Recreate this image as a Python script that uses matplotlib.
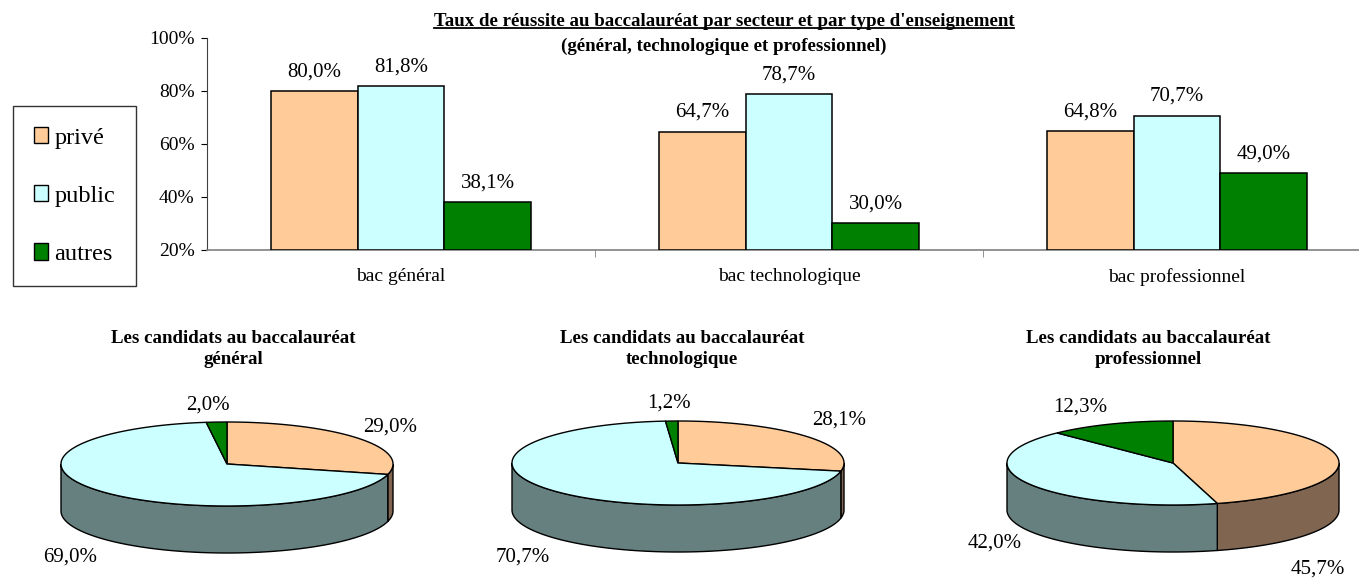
import numpy as np
import matplotlib
matplotlib.use("Agg")
import matplotlib.pyplot as plt
from matplotlib.patches import Polygon, Patch
from matplotlib.lines import Line2D

plt.rcParams['font.family'] = ['Liberation Serif', 'DejaVu Serif']

W, H = 1359, 578

categories = ['bac général', 'bac technologique', 'bac professionnel']
sectors = ['privé', 'public', 'autres']
taux_prive = [80.0, 64.7, 64.8]
taux_public = [81.8, 78.7, 70.7]
taux_autres = [38.1, 30.0, 49.0]

pie_titles = ['Les candidats au baccalauréat\ngénéral',
              'Les candidats au baccalauréat\ntechnologique',
              'Les candidats au baccalauréat\nprofessionnel']
cand_general = [29.0, 69.0, 2.0]
cand_techno = [28.1, 70.7, 1.2]
cand_pro = [45.7, 42.0, 12.3]

top_colors = ['#FFCC99', '#CCFFFF', '#008000']
side_colors = ['#806650', '#668080', '#004000']

# layout of the pies (pixels, y down)
pie_centers = [(227, 464), (678, 463), (1173, 463)]
pie_title_x = [233, 682, 1148]
label_offsets = [
    [(163, -37), (-157, 93), (-19, -59)],
    [(161, -43), (-155, 94), (-9, -60)],
    [(145, 106), (-178, 80), (-93, -56)],
]
RX, RY, DEPTH = 166, 42, 47


def fmt(v):
    return f"{v:.1f}%".replace('.', ',')


fig = plt.figure(figsize=(W / 100, H / 100), dpi=100)

# ---- bar chart ----
ax = fig.add_axes([207 / W, 1 - 250 / H, (W - 207) / W, (250 - 38) / H])
x = np.arange(len(categories))
bw = 0.223
series = [taux_prive, taux_public, taux_autres]
for i, vals in enumerate(series):
    bars = ax.bar(x + (i - 1) * bw, np.array(vals) - 20, bw, bottom=20,
                  color=top_colors[i], edgecolor='black', linewidth=1.1,
                  label=sectors[i], zorder=3)
    for b, v in zip(bars, vals):
        ax.annotate(fmt(v), (b.get_x() + b.get_width() / 2, v),
                    xytext=(0, 7), textcoords='offset points',
                    ha='center', va='bottom', fontsize=15)

ax.set_ylim(20, 100)
ax.set_xlim(-0.5, (W - 207) / 388 - 0.5)
ax.set_yticks([20, 40, 60, 80, 100])
ax.set_yticklabels([f"{t}%" for t in [20, 40, 60, 80, 100]], fontsize=14)
ax.set_xticks(x)
ax.set_xticklabels(categories, fontsize=14)
ax.set_xticks([0.5, 1.5], minor=True)
ax.tick_params(axis='x', which='major', length=0, pad=13)
ax.tick_params(axis='x', which='minor', length=5, color='#808080', direction='out')
ax.tick_params(axis='y', length=4, direction='out', pad=5)
for s in ['top', 'right']:
    ax.spines[s].set_visible(False)
ax.spines['bottom'].set_color('#808080')
ax.spines['bottom'].set_linewidth(1.2)
ax.spines['left'].set_color('#404040')

handles = [Patch(facecolor=top_colors[i], edgecolor='black', label=sectors[i])
           for i in range(3)]
leg = fig.legend(handles=handles, loc='center',
                 bbox_to_anchor=(74.5 / W, 1 - 196 / H),
                 fontsize=17.5, frameon=True, fancybox=False, edgecolor='black',
                 labelspacing=1.5, handlelength=0.6, handleheight=0.65,
                 handletextpad=0.25, borderpad=0.85)
leg.get_frame().set_linewidth(1.0)

# main title (underlined first line)
t1 = fig.text(724 / W, 1 - 21 / H,
              "Taux de réussite au baccalauréat par secteur et par type d'enseignement",
              ha='center', va='center', fontsize=13.6, fontweight='bold')
fig.text(724 / W, 1 - 46 / H, "(général, technologique et professionnel)",
         ha='center', va='center', fontsize=13.6, fontweight='bold')
fig.canvas.draw()
bb = t1.get_window_extent().transformed(fig.transFigure.inverted())
fig.add_artist(Line2D([bb.x0, bb.x1], [bb.y0 + 0.003, bb.y0 + 0.003],
                      transform=fig.transFigure, color='black', linewidth=1.3))

# ---- 3D pies ----
pax = fig.add_axes([0, 0, 1, 1])
pax.set_xlim(0, W)
pax.set_ylim(H, 0)
pax.axis('off')


def ell(cx, cy, t, dy=0):
    r = np.radians(t)
    return np.column_stack([cx + RX * np.cos(r), cy - RY * np.sin(r) + dy])


def pie3d(cx, cy, values):
    vals = np.array(values, dtype=float)
    fr = vals / vals.sum()
    bounds = 90 - 360 * np.concatenate([[0], np.cumsum(fr)])
    # sides (front half only)
    for i in range(len(vals)):
        a0, a1 = bounds[i], bounds[i + 1]
        for k in range(-2, 2):
            lo = max(a1, -180 + 360 * k)
            hi = min(a0, 360 * k)
            if hi - lo > 1e-6:
                t = np.linspace(lo, hi, 120)
                top = ell(cx, cy, t)
                bot = ell(cx, cy, t[::-1], DEPTH)
                pax.add_patch(Polygon(np.vstack([top, bot]), closed=True,
                                      facecolor=side_colors[i], edgecolor='black',
                                      linewidth=1.0, zorder=2))
    # tops
    for i in range(len(vals)):
        a0, a1 = bounds[i], bounds[i + 1]
        t = np.linspace(a0, a1, 200)
        pts = np.vstack([[cx, cy], ell(cx, cy, t)])
        pax.add_patch(Polygon(pts, closed=True, facecolor=top_colors[i],
                              edgecolor='black', linewidth=1.0, zorder=3))


for p, vals in enumerate([cand_general, cand_techno, cand_pro]):
    cx, cy = pie_centers[p]
    pie3d(cx, cy, vals)
    for i, v in enumerate(vals):
        dx, dy = label_offsets[p][i]
        pax.text(cx + dx, cy + dy, fmt(v), ha='center', va='center', fontsize=15)
    pax.text(pie_title_x[p], 349, pie_titles[p], ha='center', va='center',
             fontsize=13.6, fontweight='bold', linespacing=1.3)

fig.savefig('out.png', dpi=100)
